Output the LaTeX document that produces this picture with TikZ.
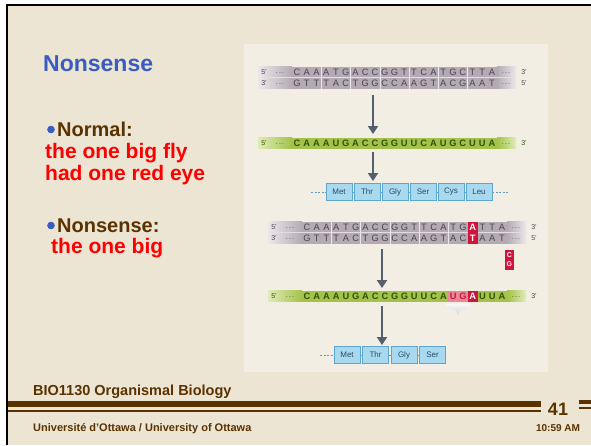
\documentclass[tikz,border=0pt]{standalone}
\usepackage{fontspec}
\setmainfont{Liberation Sans}
\usetikzlibrary{arrows.meta}

\definecolor{slidebg}{HTML}{ECE5D3}
\definecolor{panelbg}{HTML}{F2EEE3}
\definecolor{titleblue}{HTML}{3A5BC0}
\definecolor{ottbrown}{HTML}{5A3200}
\definecolor{txtred}{HTML}{FF0000}
\definecolor{dnabar}{HTML}{B4AAB4}
\definecolor{dnaend}{HTML}{ECE8EA}
\definecolor{dnatext}{HTML}{4A4452}
\definecolor{rnabar}{HTML}{A2C24A}
\definecolor{rnaend}{HTML}{E2EBB8}
\definecolor{rnatext}{HTML}{34500E}
\definecolor{mutred}{HTML}{D0143E}
\definecolor{stoppink}{HTML}{E68A98}
\definecolor{aafill}{HTML}{A8D9EE}
\definecolor{aadraw}{HTML}{5CA6CF}
\definecolor{aatext}{HTML}{2C4A6C}
\definecolor{arrowgrey}{HTML}{55606C}
\definecolor{rfgrey}{HTML}{CFCFD0}

\tikzset{
  dnalet/.style={font=\fontsize{9.3}{10}\selectfont, text=dnatext, inner sep=0pt},
  rnalet/.style={font=\fontsize{9.3}{10}\selectfont\bfseries, text=rnatext, inner sep=0pt},
  stoplet/.style={font=\fontsize{9.3}{10}\selectfont\bfseries, text=mutred, inner sep=0pt},
  mutlet/.style={font=\fontsize{9.3}{10}\selectfont\bfseries, text=white, fill=mutred,
                 inner sep=0pt, minimum width=9.5pt, minimum height=11pt},
  endlab/.style={font=\fontsize{7}{8}\selectfont, inner sep=0pt},
  aabox/.style={draw=aadraw, fill=aafill, line width=0.8pt, minimum width=26pt,
                minimum height=17pt, inner sep=0pt, font=\fontsize{8}{9}\selectfont, text=aatext},
  aalink/.style={draw=aadraw, line width=0.7pt},
  aalead/.style={draw=aadraw!80!gray, line width=0.7pt, dash pattern=on 2pt off 1.5pt},
  flowarrow/.style={line width=2.8pt, draw=arrowgrey, -{Triangle[width=10pt,length=8pt]}},
  slidetext/.style={inner sep=0pt, anchor=base west, font=\bfseries},
  codonsep/.style={draw=white!70!dnabar, line width=0.6pt},
}

% a strand bar: first-letter x, centre y, solid colour, faded colour
\newcommand\strandbar[4]{%
  \shade[left color=#4, right color=#3] (#1-39,#2-5.5) rectangle (#1-5,#2+5.5);
  \fill[#3] (#1-5,#2-5.5) rectangle (#1+200,#2+5.5);
  \shade[left color=#3, right color=#4] (#1+200,#2-5.5) rectangle (#1+219,#2+5.5);
}
% a row of bases: name prefix, x of first base, centre y, style, list
\newcommand\letterrow[5]{%
  \foreach \ch [count=\n from 0] in {#5} {\node[#4] (#1\n) at (#2+\n*9.75,#3) {\ch};}
}
% end labels of a strand: name prefix, first-letter x, centre y, left label, right label, colour
\newcommand\strandends[6]{%
  \node[endlab, text=#6] (#1l) at (#2-33,#3) {#4};
  \node[endlab, text=#6] (#1ld) at (#2-17,#3+1.5) {.\,.\,.};
  \node[endlab, text=#6] (#1rd) at (#2+209,#3+1.5) {.\,.\,.};
  \node[endlab, text=#6] (#1r) at (#2+227,#3) {#5};
}
% codon boundaries across a bar: first-letter x, top y, bottom y
\newcommand\codonlines[3]{%
  \foreach \k in {1,...,6} {\draw[codonsep] (#1+\k*29.25-4.875,#2) -- (#1+\k*29.25-4.875,#3);}
}

\begin{document}
\begin{tikzpicture}[x=1pt,y=-1pt]
\useasboundingbox (0,0) rectangle (591,445);

% slide background and frame
\fill[white] (0,0) rectangle (591,445);
\fill[slidebg] (7,5) rectangle (591,445);
\draw[black, line width=2.4pt] (7.2,445) -- (7.2,5.2) -- (591,5.2);

% figure panel
\fill[panelbg] (244,44) rectangle (548,372);

% left column texts
\node[slidetext, text=titleblue, font=\fontsize{23}{27}\selectfont\bfseries] (title) at (43,71) {Nonsense};

\fill[titleblue] (51,129.5) circle (3.8pt);
\node[slidetext, text=ottbrown, font=\fontsize{20}{24}\selectfont\bfseries] (normal) at (57,136) {Normal:};
\node[slidetext, text=txtred, font=\fontsize{21}{24}\selectfont\bfseries] (normal1) at (45,158) {the one big fly};
\node[slidetext, text=txtred, font=\fontsize{21}{24}\selectfont\bfseries] (normal2) at (45,180) {had one red eye};

\fill[titleblue] (51,225.5) circle (3.8pt);
\node[slidetext, text=ottbrown, font=\fontsize{20}{24}\selectfont\bfseries] (nons) at (57,232) {Nonsense:};
\node[slidetext, text=txtred, font=\fontsize{21}{24}\selectfont\bfseries] (nons1) at (51,253) {the one big};

% ---------- normal gene ----------
\strandbar{297}{72}{dnabar}{dnaend}
\strandbar{297}{83}{dnabar}{dnaend}
\draw[white!60!dnabar, line width=0.5pt] (262,77.5) -- (513,77.5);
\codonlines{297}{66.5}{88.5}
\letterrow{dna1t}{297}{72}{dnalet}{C,A,A,A,T,G,A,C,C,G,G,T,T,C,A,T,G,C,T,T,A}
\letterrow{dna1b}{297}{83}{dnalet}{G,T,T,T,A,C,T,G,G,C,C,A,A,G,T,A,C,G,A,A,T}
\strandends{dna1te}{297}{72}{5'}{3'}{dnatext}
\strandends{dna1be}{297}{83}{3'}{5'}{dnatext}

\strandbar{297}{143}{rnabar}{rnaend}
\letterrow{rna1}{297}{143}{rnalet}{C,A,A,A,U,G,A,C,C,G,G,U,U,C,A,U,G,C,U,U,A}
\strandends{rna1e}{297}{143}{5'}{3'}{rnatext}

\foreach \aa [count=\k from 0] in {Met,Thr,Gly,Ser,Cys,Leu}
  \node[aabox] (p1\k) at (339+\k*28,192) {\aa};
\foreach \k [evaluate=\k as \j using int(\k+1)] in {0,...,4}
  \draw[aalink] (p1\k.east) -- (p1\j.west);
\coordinate (p1l) at (311,192);
\coordinate (p1r) at (508,192);
\draw[aalead] (p1l) -- (p10.west);
\draw[aalead] (p15.east) -- (p1r);

\coordinate (a1s) at (373,95);
\coordinate (a1e) at (373,134);
\coordinate (a2s) at (373,152);
\coordinate (a2e) at (373,181);
\draw[flowarrow] (a1s) -- (a1e);
\draw[flowarrow] (a2s) -- (a2e);

% ---------- nonsense mutation ----------
\strandbar{307}{227}{dnabar}{dnaend}
\strandbar{307}{238}{dnabar}{dnaend}
\draw[white!60!dnabar, line width=0.5pt] (272,232.5) -- (523,232.5);
\codonlines{307}{221.5}{243.5}
\letterrow{dna2t}{307}{227}{dnalet}{C,A,A,A,T,G,A,C,C,G,G,T,T,C,A,T,G}
\node[mutlet] (mutA) at (307+17*9.75,227) {A};
\letterrow{dna2tr}{307+18*9.75}{227}{dnalet}{T,T,A}
\letterrow{dna2b}{307}{238}{dnalet}{G,T,T,T,A,C,T,G,G,C,C,A,A,G,T,A,C}
\node[mutlet] (mutT) at (307+17*9.75,238) {T};
\letterrow{dna2br}{307+18*9.75}{238}{dnalet}{A,A,T}
\strandends{dna2te}{307}{227}{5'}{3'}{dnatext}
\strandends{dna2be}{307}{238}{3'}{5'}{dnatext}

% the replaced base pair
\fill[mutred] (505,250) rectangle (513.5,270);
\node[font=\fontsize{7}{8}\selectfont\bfseries, text=white, inner sep=0pt] (oldC) at (509.3,255.5) {C};
\node[font=\fontsize{7}{8}\selectfont\bfseries, text=white, inner sep=0pt] (oldG) at (509.3,264.5) {G};

\strandbar{307}{296}{rnabar}{rnaend}
\fill[stoppink] (307+15*9.75-4.9,290.5) rectangle (307+16*9.75+4.9,301.5);
\letterrow{rna2a}{307}{296}{rnalet}{C,A,A,A,U,G,A,C,C,G,G,U,U,C,A}
\node[stoplet] (stopU) at (307+15*9.75,296) {U};
\node[stoplet] (stopG) at (307+16*9.75,296) {G};
\node[mutlet] (stopA) at (307+17*9.75,296) {A};
\letterrow{rna2b}{307+18*9.75}{296}{rnalet}{U,U,A}
\strandends{rna2e}{307}{296}{5'}{3'}{rnatext}

% release factor at the stop codon
\shade[top color=white!85!rfgrey, bottom color=rfgrey]
  (445,303.5) -- (471,303.5) to[out=-90,in=0] (463,309.5)
  to[out=180,in=90] (458,316.5) to[out=90,in=0] (453,309.5)
  to[out=180,in=-90] (445,303.5) -- cycle;

\foreach \aa [count=\k from 0] in {Met,Thr,Gly,Ser}
  \node[aabox] (p2\k) at (347+\k*28.5,355) {\aa};
\foreach \k [evaluate=\k as \j using int(\k+1)] in {0,...,2}
  \draw[aalink] (p2\k.east) -- (p2\j.west);
\coordinate (p2l) at (320,355);
\draw[aalead] (p2l) -- (p20.west);

\coordinate (a3s) at (382,249);
\coordinate (a3e) at (382,288);
\coordinate (a4s) at (382,306);
\coordinate (a4e) at (382,345);
\draw[flowarrow] (a3s) -- (a3e);
\draw[flowarrow] (a4s) -- (a4e);

% footer
\node[slidetext, text=ottbrown, font=\fontsize{14.5}{17}\selectfont\bfseries] (course) at (33,395) {BIO1130 Organismal Biology};
\fill[ottbrown] (8,401) rectangle (541,407);
\fill[ottbrown] (8,410) rectangle (541,412);
\fill[ottbrown] (579,400) rectangle (591,404);
\fill[ottbrown] (579,407) rectangle (591,409);
\node[inner sep=0pt, anchor=base, text=ottbrown, font=\fontsize{18}{20}\selectfont\bfseries] (page) at (558,415) {41};
\node[inner sep=0pt, anchor=base, text=ottbrown, font=\fontsize{10}{12}\selectfont\bfseries] (clock) at (558,431) {10:59 AM};
\node[slidetext, text=ottbrown, font=\fontsize{11}{13}\selectfont\bfseries] (univ) at (33,431) {Université d’Ottawa / University of Ottawa};
\end{tikzpicture}
\end{document}
